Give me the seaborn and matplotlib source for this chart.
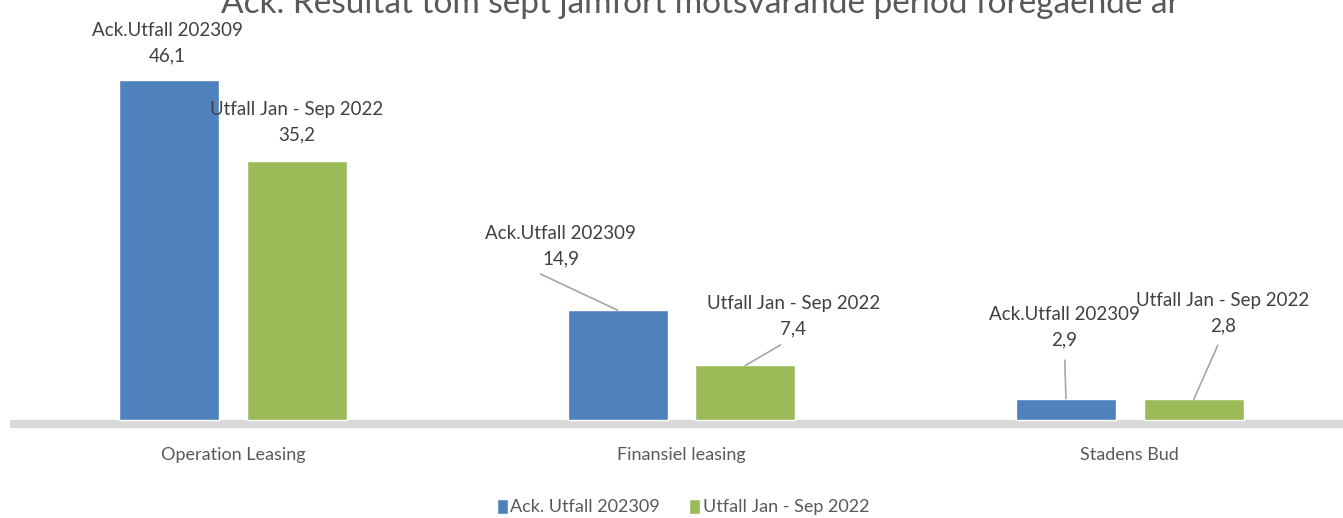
import pandas as pd
import matplotlib
matplotlib.use("Agg")
import matplotlib.pyplot as plt
import seaborn as sns

# data
categories = ["Operation Leasing", "Finansiel leasing", "Stadens Bud"]
series_names = ["Ack. Utfall 202309", "Utfall Jan - Sep 2022"]
label_names = ["Ack.Utfall 202309", "Utfall Jan - Sep 2022"]
ack_values = [46.1, 14.9, 2.9]
utfall_values = [35.2, 7.4, 2.8]

df = pd.DataFrame({
    "Kategori": categories * 2,
    "Serie": [series_names[0]] * 3 + [series_names[1]] * 3,
    "Varde": ack_values + utfall_values,
})

sns.set_style("white")
plt.rcParams["font.family"] = ["Lato", "DejaVu Sans"]

fig = plt.figure(figsize=(13.43, 5.18), dpi=100)
W, H = 1343, 518
# axes: x 9..1354 px, data zero at y=420 px
ymin, ymax = -0.6, 52
pxu = 7.37
ax_bottom = 420 + 0.6 * pxu
ax_h = (ymax - ymin) * pxu
ax = fig.add_axes([9 / W, (H - ax_bottom) / H, 1345 / W, ax_h / H])

colors = ["#4f81bd", "#9bbb59"]
sns.barplot(data=df, x="Kategori", y="Varde", hue="Serie", palette=colors,
            width=0.57, gap=0.216, saturation=1, ax=ax, legend=True)

ax.set_xlim(-0.5, 2.5)
ax.set_ylim(ymin, ymax)
ax.set_xlabel("")
ax.set_ylabel("")
ax.set_yticks([])
for s in ["top", "left", "right"]:
    ax.spines[s].set_visible(False)
ax.spines["bottom"].set_color("#d9d9d9")
ax.spines["bottom"].set_linewidth(6)
ax.spines["bottom"].set_capstyle("butt")
ax.spines["bottom"].set_bounds(-0.5 + 1 / 448.5, 2.5)
ax.spines["bottom"].set_zorder(0.5)
ax.tick_params(axis="x", length=0, pad=16, labelsize=13, labelcolor="#595959")

# label offsets (pixels from bar top centre) and leader start point
offsets = [
    [(-2, 16, None), (0, 17, None)],
    [(-57, 43, 0.27), (48, 28, 0.5)],
    [(-1.5, 50, 0.5), (29, 65, 0.5)],
]

all_values = [ack_values, utfall_values]
for si, cont in enumerate(ax.containers):
    for ci, bar in enumerate(cont):
        v = all_values[si][ci]
        dx, dy, rel = offsets[ci][si]
        txt = label_names[si] + "\n" + f"{v:.1f}".replace(".", ",")
        xy = (bar.get_x() + bar.get_width() / 2, bar.get_height())
        arrow = None
        if rel is not None:
            arrow = dict(arrowstyle="-", color="#a6a6a6", lw=1.2,
                         relpos=(rel, 0), shrinkA=6, shrinkB=0)
        ax.annotate(txt, xy=xy, xytext=(dx, dy), textcoords="offset pixels",
                    ha="center", va="bottom", fontsize=13.5, color="#404040",
                    linespacing=1.6, arrowprops=arrow)

handles, labels = ax.get_legend_handles_labels()
ax.legend(handles, labels, loc="center", bbox_to_anchor=(683 / W, 11 / H),
          bbox_transform=fig.transFigure, ncol=2, frameon=False, fontsize=13,
          labelcolor="#595959", handlelength=0.6, handleheight=0.9,
          handletextpad=0.15, columnspacing=1.6)

fig.text(700 / W, (H - 13) / H,
         "Ack. Resultat tom sept jämfört motsvarande period föregående år",
         ha="center", va="baseline", fontsize=24, color="#595959")

fig.savefig("out.png", dpi=100)
